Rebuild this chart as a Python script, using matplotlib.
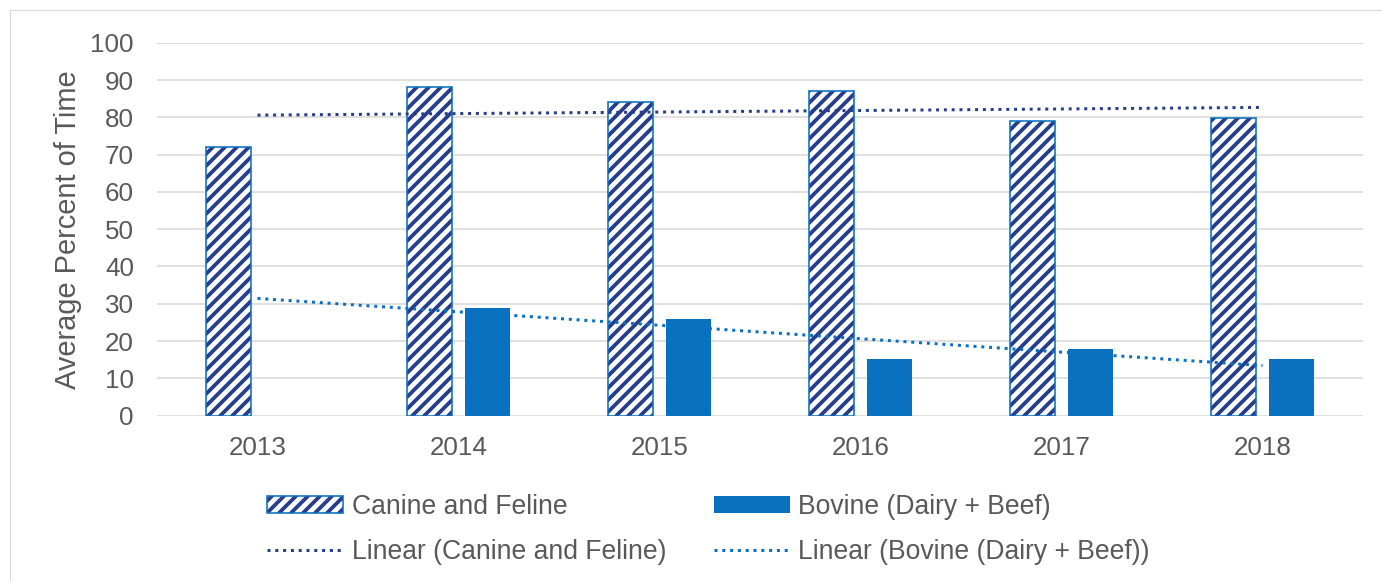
import numpy as np
import matplotlib
matplotlib.use("Agg")
import matplotlib.pyplot as plt
from matplotlib.patches import Patch, Rectangle
from matplotlib.lines import Line2D

# ---- data ----
years = ["2013", "2014", "2015", "2016", "2017", "2018"]
canine_feline = [72, 88, 84, 87, 79, 79.7]
bovine = [np.nan, 29, 26, 15.3, 17.8, 15.1]
yticks = [0, 10, 20, 30, 40, 50, 60, 70, 80, 90, 100]
ylabel = "Average Percent of Time"
labels = ["Canine and Feline", "Bovine (Dairy + Beef)",
          "Linear (Canine and Feline)", "Linear (Bovine (Dairy + Beef))"]

# ---- style ----
W, H, DPI = 1382, 581, 72
NAVY = "#263E8A"
BLUE = "#0A70C0"
TEXT = "#595959"
GRID = "#D9D9D9"
plt.rcParams["font.family"] = ["Liberation Sans", "DejaVu Sans"]
plt.rcParams["hatch.linewidth"] = 3.8

fig = plt.figure(figsize=(W / DPI, H / DPI), dpi=DPI)
fig.patches.append(Rectangle((10 / W, -0.5), 2, (1 - 10 / H) + 0.5,
                             transform=fig.transFigure, fill=False,
                             ec=GRID, lw=1.2))
ax = fig.add_axes([157 / W, 1 - 415.7 / H, (1363 - 157) / W, (415.7 - 42.7) / H])

x = np.arange(len(years))
bw = 0.225
off = 0.143
cf = np.array(canine_feline, dtype=float)
bv = np.array(bovine, dtype=float)

# hatched canine bars (hatch in navy) + blue outline
ax.bar(x - off, cf, bw, facecolor="white", edgecolor=NAVY, linewidth=0,
       hatch="//", zorder=3)
ax.bar(x - off, cf, bw, fill=False, edgecolor=BLUE, linewidth=1.6, zorder=4)

mask = ~np.isnan(bv)
ax.bar(x[mask] + off, bv[mask], bw, color=BLUE, linewidth=0, zorder=3)

# linear trendlines (least-squares fits of the series)
p1 = np.polyfit(x, cf, 1)
ax.plot(x, np.polyval(p1, x), color=NAVY, lw=3, linestyle=(0, (1, 1.6)), zorder=5)
p2 = np.polyfit(x[mask], bv[mask], 1)
ax.plot(x, np.polyval(p2, x), color=BLUE, lw=3, linestyle=(0, (1, 1.6)), zorder=5)

ax.set_xlim(-0.5, len(years) - 0.5)
ax.set_ylim(0, 100)
ax.set_yticks(yticks)
ax.set_xticks(x)
ax.set_xticklabels(years)
ax.tick_params(axis="both", length=0, labelsize=26, labelcolor=TEXT)
ax.tick_params(axis="y", pad=23)
ax.tick_params(axis="x", pad=20)
ax.grid(axis="y", color=GRID, lw=1.6, zorder=0)
ax.set_axisbelow(True)
for s in ax.spines.values():
    s.set_visible(False)
ax.set_ylabel(ylabel, fontsize=29, color=TEXT, labelpad=8)

# legend
h_cf = (Patch(facecolor="white", edgecolor=NAVY, linewidth=0, hatch="//"),
        Patch(fill=False, edgecolor=BLUE, linewidth=1.6))
h_bv = Patch(facecolor=BLUE, linewidth=0)
h_l1 = Line2D([], [], color=NAVY, lw=3, linestyle=(0, (1, 1.6)))
h_l2 = Line2D([], [], color=BLUE, lw=3, linestyle=(0, (1, 1.6)))
leg = fig.legend([h_cf, h_l1, h_bv, h_l2],
                 [labels[0], labels[2], labels[1], labels[3]],
                 ncol=2, loc="upper left", bbox_to_anchor=(267 / W, 1 - 494 / H),
                 frameon=False, fontsize=26.5, handlelength=2.87,
                 handleheight=0.57, handletextpad=0.32, columnspacing=1.8,
                 labelspacing=0.71, borderpad=0, borderaxespad=0)
for t in leg.get_texts():
    t.set_color(TEXT)

fig.savefig("out.png", dpi=DPI)
